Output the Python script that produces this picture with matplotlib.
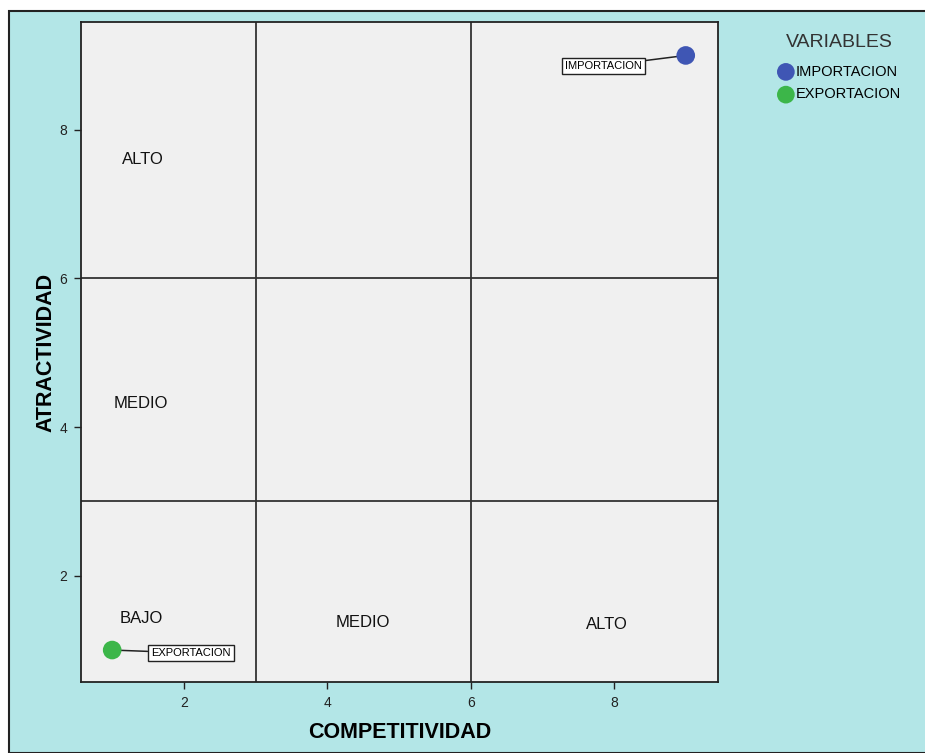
import matplotlib
matplotlib.use("Agg")
import matplotlib.pyplot as plt
from matplotlib.patches import Rectangle

plt.rcParams['font.family'] = ['Liberation Sans', 'DejaVu Sans']

# Data
variables = ["IMPORTACION", "EXPORTACION"]
competitividad = [9.0, 1.0]
atractividad = [9.0, 1.0]
colors = ["#3f56b4", "#3cb649"]

# Label box positions for each point
label_x = [7.85, 2.1]
label_y = [8.86, 0.96]

# Zone labels
zone_text = ["ALTO", "MEDIO", "BAJO", "MEDIO", "ALTO"]
zone_x = [1.43, 1.40, 1.40, 4.49, 7.90]
zone_y = [7.60, 4.32, 1.42, 1.37, 1.34]

# Zone boundaries
x_cuts = [3, 6]
y_cuts = [3, 6]

xticks = [2, 4, 6, 8]
yticks = [2, 4, 6, 8]

fig = plt.figure(figsize=(9.25, 7.53), dpi=100, facecolor="white")
bg = Rectangle((9 / 925, 0), 1.0, 1 - 11 / 753, transform=fig.transFigure,
               facecolor="#b3e6e7", edgecolor="#222222", linewidth=1.5, zorder=-10)
fig.add_artist(bg)

ax = fig.add_axes([81 / 925, 1 - 682 / 753, (718 - 81) / 925, (682 - 22) / 753])
ax.set_zorder(1)
ax.set_facecolor("#f0f0f0")
ax.set_xlim(0.565, 9.45)
ax.set_ylim(0.57, 9.45)

for xc in x_cuts:
    ax.axvline(xc, color="#333333", linewidth=1.3, zorder=1)
for yc in y_cuts:
    ax.axhline(yc, color="#333333", linewidth=1.3, zorder=1)

for name, x, y, c in zip(variables, competitividad, atractividad, colors):
    ax.scatter([x], [y], s=180, color=c, zorder=4, label=name, edgecolors="none")

for name, x, y, lx, ly in zip(variables, competitividad, atractividad, label_x, label_y):
    ax.annotate(name, xy=(x, y), xytext=(lx, ly), fontsize=8, ha="center", va="center",
                bbox=dict(boxstyle="square,pad=0.3", facecolor="white", edgecolor="#222222",
                          linewidth=1),
                arrowprops=dict(arrowstyle="-", color="#222222", linewidth=1.1,
                                shrinkA=0, shrinkB=0),
                zorder=3)

for t, x, y in zip(zone_text, zone_x, zone_y):
    ax.text(x, y, t, fontsize=12, ha="center", va="center", color="#111111")

ax.set_xticks(xticks)
ax.set_yticks(yticks)
ax.tick_params(direction="out", length=5, width=1, labelsize=10, colors="#222222", pad=5)
for s in ax.spines.values():
    s.set_color("#222222")
    s.set_linewidth(1.3)

ax.set_xlabel("COMPETITIVIDAD", fontsize=15.5, fontweight="bold", labelpad=9)
ax.set_ylabel("ATRACTIVIDAD", fontsize=15.5, fontweight="bold", labelpad=2)

leg = fig.legend(loc="upper left", bbox_to_anchor=(772 / 925, 1 - 28 / 753),
                 title="VARIABLES", frameon=False, fontsize=10.5, title_fontsize=14,
                 handletextpad=0.15, labelspacing=0.6, borderaxespad=0,
                 handlelength=1.1, markerscale=0.95)
leg.get_title().set_color("#333333")
leg._legend_box.sep = 10

fig.savefig("out.png", dpi=100, facecolor=fig.get_facecolor())
